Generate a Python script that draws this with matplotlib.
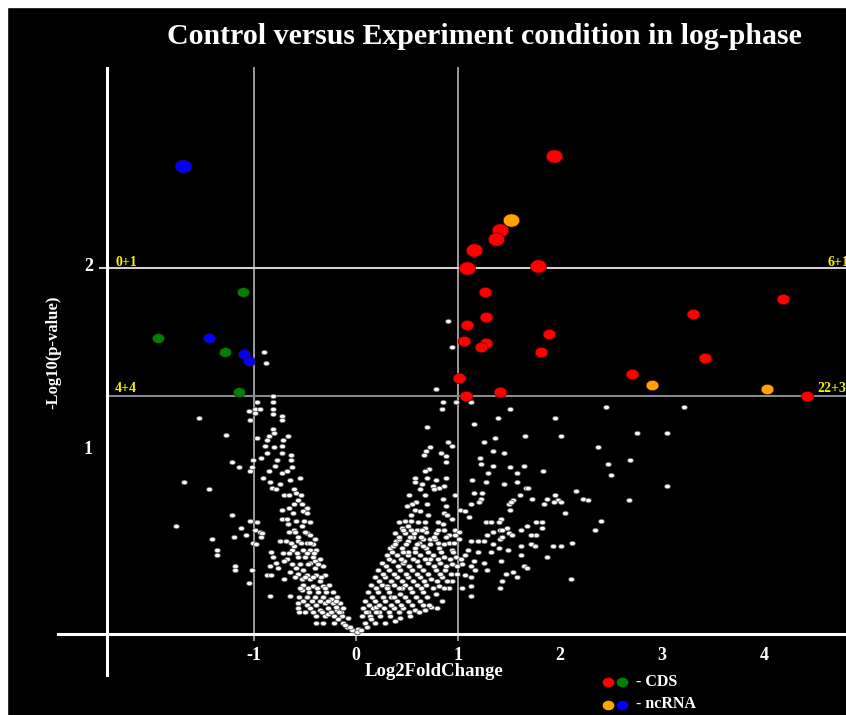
"""
Volcano plot: Control versus Experiment condition in log-phase
"""

import matplotlib
matplotlib.use('Agg')
import matplotlib.pyplot as plt
import matplotlib.path as mpath
from matplotlib.patches import Rectangle
import numpy as np

# ---- data (Log2FoldChange, -Log10(p-value)) ----
red_big_x = [1.94, 1.41, 1.37, 1.16, 1.09, 1.78]
red_big_y = [2.61, 2.21, 2.16, 2.10, 2.00, 2.01]
orange_big_x = [1.52]
orange_big_y = [2.26]

red_x = [1.26, 1.27, 1.09, 1.89, 1.06, 1.27, 1.23, 1.81, 1.01, 1.41, 1.08,
         4.19, 3.30, 3.42, 2.71, 4.42]
red_y = [1.87, 1.73, 1.69, 1.64, 1.60, 1.59, 1.57, 1.54, 1.40, 1.32, 1.30,
         1.83, 1.75, 1.51, 1.42, 1.30]
orange_x = [2.90, 4.03]
orange_y = [1.36, 1.34]

blue_big_x = [-1.70]
blue_big_y = [2.56]
blue_x = [-1.44, -1.10, -1.05]
blue_y = [1.62, 1.53, 1.49]
green_x = [-1.94, -1.11, -1.28, -1.15]
green_y = [1.62, 1.87, 1.54, 1.32]

# genes that are not significant
white_pts = [
    # left arm
    (-0.90, 1.54), (-0.88, 1.48), (-0.81, 1.30), (-0.81, 1.27), (-0.97, 1.27),
    (-1.05, 1.22), (-0.99, 1.23), (-0.99, 1.21), (-0.94, 1.23), (-1.04, 1.17),
    (-0.81, 1.23), (-0.81, 1.20), (-0.73, 1.19), (-0.73, 1.17), (-1.54, 1.18),
    (-1.27, 1.09), (-0.81, 1.12), (-0.80, 1.10), (-0.85, 1.08), (-0.97, 1.07),
    (-0.67, 1.08), (-0.72, 1.06), (-0.87, 1.06), (-0.89, 1.03), (-0.80, 1.02),
    (-0.73, 1.03), (-0.87, 0.99), (-0.73, 0.99), (-0.64, 0.98), (-0.93, 0.96),
    (-1.01, 0.95), (-0.77, 0.95), (-0.64, 0.95), (-1.22, 0.94), (-1.15, 0.91),
    (-1.02, 0.91), (-1.04, 0.89), (-0.79, 0.92), (-0.85, 0.89), (-0.73, 0.88),
    (-0.63, 0.91), (-0.68, 0.89), (-0.55, 0.85), (-0.65, 0.84), (-0.91, 0.85),
    (-0.84, 0.83), (-0.75, 0.82), (-0.82, 0.80), (-0.78, 0.79), (-1.69, 0.83),
    (-1.44, 0.79), (-0.61, 0.79), (-0.59, 0.77), (-0.54, 0.76), (-0.71, 0.76),
    (-0.66, 0.76), (-0.57, 0.73), (-0.53, 0.71), (-0.61, 0.71), (-0.48, 0.69),
    (-0.73, 0.68), (-0.66, 0.69), (-0.52, 0.67), (-0.62, 0.66), (-0.48, 0.66),
    (-1.22, 0.65), (-0.73, 0.63), (-0.68, 0.63), (-0.59, 0.62), (-0.51, 0.62),
    (-0.45, 0.61), (-1.04, 0.62), (-0.97, 0.61), (-1.76, 0.59), (-0.67, 0.60),
    (-0.53, 0.59), (-1.13, 0.58), (-0.99, 0.57), (-0.61, 0.57), (-0.66, 0.56),
    (-0.48, 0.55), (-0.94, 0.56), (-0.92, 0.55), (-1.20, 0.53), (-1.08, 0.54),
    (-0.93, 0.53), (-1.41, 0.52), (-0.57, 0.53), (-0.45, 0.54), (-0.40, 0.52),
    (-0.75, 0.51), (-0.69, 0.51), (-0.57, 0.51), (-1.01, 0.50), (-0.98, 0.49),
    (-0.48, 0.50), (-0.42, 0.49), (-0.61, 0.48), (-0.63, 0.46), (-0.52, 0.46),
    (-0.45, 0.46), (-0.39, 0.46), (-1.36, 0.46), (-1.36, 0.43), (-0.83, 0.45),
    (-0.72, 0.44), (-0.81, 0.42), (-0.68, 0.41), (-0.57, 0.42), (-0.50, 0.42),
    (-0.42, 0.42), (-0.35, 0.41), (-0.78, 0.39), (-0.71, 0.40), (-0.45, 0.39),
    (-0.40, 0.40), (-1.19, 0.37), (-1.19, 0.35), (-1.02, 0.35), (-0.84, 0.37),
    (-0.76, 0.36), (-0.59, 0.36), (-0.52, 0.35), (-0.40, 0.36), (-0.32, 0.37),
    (-0.65, 0.34), (-0.57, 0.33), (-0.48, 0.32), (-0.39, 0.32), (-0.30, 0.32),
    (-0.87, 0.32), (-0.83, 0.32), (-0.71, 0.30), (-0.53, 0.30), (-0.45, 0.30),
    (-0.35, 0.29), (-1.05, 0.28), (-0.52, 0.27), (-0.42, 0.26), (-0.32, 0.26),
    (-0.26, 0.27), (-0.53, 0.24), (-0.46, 0.23), (-0.37, 0.23), (-0.29, 0.23),
    (-0.23, 0.23), (-0.65, 0.21), (-0.84, 0.21), (-0.56, 0.20), (-0.48, 0.20),
    (-0.40, 0.20), (-0.32, 0.20), (-0.19, 0.20), (-0.57, 0.17), (-0.48, 0.16),
    (-0.39, 0.16), (-0.30, 0.17), (-0.23, 0.17), (-0.16, 0.17), (-0.57, 0.14),
    (-0.45, 0.14), (-0.35, 0.13), (-0.27, 0.14), (-0.19, 0.13), (-0.13, 0.14),
    (-0.56, 0.12), (-0.39, 0.10), (-0.30, 0.10), (-0.22, 0.10), (-0.14, 0.10),
    (-0.08, 0.09), (-0.39, 0.06), (-0.32, 0.06), (-0.22, 0.06), (-0.13, 0.06),
    (-0.09, 0.04), (-0.04, 0.02), (0.01, 0.01), (-0.27, 0.11), (-0.18, 0.08),
    (-0.11, 0.05), (-0.06, 0.04), (-0.25, 0.19), (-0.20, 0.15), (-0.15, 0.12),
    (-0.50, 0.12), (-0.42, 0.12), (-0.33, 0.12), (-0.25, 0.12), (-0.17, 0.12),
    (-0.52, 0.18), (-0.43, 0.18), (-0.35, 0.18), (-0.27, 0.18), (-0.20, 0.18),
    (-0.55, 0.25), (-0.47, 0.25), (-0.38, 0.25), (-0.30, 0.25), (-0.60, 0.31),
    (-0.50, 0.31), (-0.42, 0.31), (-0.34, 0.31), (-0.63, 0.38), (-0.55, 0.38),
    (-0.47, 0.38), (-0.37, 0.38), (-0.66, 0.44), (-0.58, 0.44), (-0.48, 0.44),
    (-0.41, 0.44), (-0.64, 0.50), (-0.54, 0.50), (-0.45, 0.50), (-0.60, 0.56),
    (-0.50, 0.56),
    # right arm
    (0.94, 1.57), (0.90, 1.71), (0.78, 1.34), (0.85, 1.27), (0.98, 1.27),
    (1.13, 1.27), (0.84, 1.23), (1.51, 1.23), (1.39, 1.18), (1.16, 1.15),
    (0.70, 1.13), (1.36, 1.07), (1.25, 1.05), (0.90, 1.05), (0.94, 1.03),
    (0.73, 1.02), (0.69, 1.00), (0.83, 0.99), (1.34, 1.00), (1.45, 0.99),
    (0.67, 0.98), (0.88, 0.97), (1.22, 0.96), (1.23, 0.93), (0.88, 0.94),
    (1.34, 0.92), (1.51, 0.91), (0.72, 0.90), (0.68, 0.89), (1.29, 0.88),
    (0.58, 0.85), (0.88, 0.85), (0.70, 0.85), (0.78, 0.84), (1.14, 0.84),
    (1.27, 0.83), (0.58, 0.83), (1.45, 0.82), (0.65, 0.82), (0.75, 0.81),
    (0.86, 0.81), (0.81, 0.80), (0.63, 0.79), (0.76, 0.79), (1.24, 0.77),
    (1.16, 0.77), (0.97, 0.76), (0.52, 0.76), (0.68, 0.76), (0.85, 0.74),
    (1.23, 0.74), (1.21, 0.72), (1.54, 0.73), (0.59, 0.72), (0.55, 0.71),
    (0.70, 0.71), (1.50, 0.71), (1.13, 0.71), (0.88, 0.70), (0.50, 0.70),
    (0.58, 0.68), (1.51, 0.68), (1.02, 0.68), (1.07, 0.67), (0.63, 0.67),
    (0.86, 0.66), (0.89, 0.65), (0.71, 0.65), (0.54, 0.65), (0.94, 0.63),
    (1.11, 0.64), (1.42, 0.63), (0.48, 0.62), (0.54, 0.62), (0.68, 0.61),
    (0.61, 0.61), (0.42, 0.61), (0.80, 0.61), (0.85, 0.60), (1.27, 0.61),
    (1.32, 0.61), (1.40, 0.61), (0.51, 0.59), (1.48, 0.58), (0.45, 0.58),
    (0.60, 0.57), (0.86, 0.57), (0.97, 0.57), (0.69, 0.56), (1.01, 0.56),
    (1.34, 0.56), (1.41, 0.57), (1.50, 0.55), (0.38, 0.55), (0.48, 0.55),
    (0.78, 0.55), (0.91, 0.54), (0.97, 0.54), (1.53, 0.54), (1.28, 0.54),
    (0.56, 0.53), (0.66, 0.52), (0.73, 0.52), (1.01, 0.52), (1.25, 0.51),
    (1.41, 0.52), (1.20, 0.51), (0.39, 0.51), (0.51, 0.51), (0.62, 0.50),
    (0.80, 0.50), (1.13, 0.51), (0.91, 0.50), (0.96, 0.50), (1.34, 0.49),
    (1.40, 0.47), (1.49, 0.46), (0.33, 0.47), (0.45, 0.47), (0.58, 0.47),
    (0.69, 0.47), (0.81, 0.47), (0.94, 0.46), (1.10, 0.46), (1.20, 0.45),
    (1.32, 0.45), (1.07, 0.43), (1.16, 0.40), (0.30, 0.43), (0.40, 0.43),
    (0.51, 0.43), (0.63, 0.43), (0.75, 0.43), (0.86, 0.42), (0.98, 0.42),
    (1.42, 0.40), (1.25, 0.39), (1.13, 0.37), (0.25, 0.39), (0.36, 0.40),
    (0.46, 0.39), (0.60, 0.40), (0.71, 0.39), (0.82, 0.39), (0.94, 0.38),
    (1.04, 0.38), (1.28, 0.35), (1.17, 0.35), (1.54, 0.34), (0.22, 0.35),
    (0.32, 0.35), (0.43, 0.35), (0.55, 0.35), (0.66, 0.35), (0.78, 0.35),
    (0.87, 0.35), (0.99, 0.33), (1.07, 0.32), (1.13, 0.31), (0.19, 0.31),
    (0.28, 0.31), (0.40, 0.31), (0.51, 0.31), (0.63, 0.31), (0.74, 0.30),
    (0.84, 0.31), (0.94, 0.29), (1.43, 0.29), (1.41, 0.25), (1.13, 0.26),
    (1.04, 0.25), (0.15, 0.27), (0.25, 0.27), (0.37, 0.27), (0.48, 0.27),
    (0.60, 0.27), (0.69, 0.27), (0.81, 0.26), (0.91, 0.25), (1.13, 0.21),
    (0.12, 0.23), (0.22, 0.23), (0.32, 0.23), (0.43, 0.22), (0.55, 0.23),
    (0.66, 0.23), (0.78, 0.22), (0.84, 0.18), (0.09, 0.18), (0.19, 0.18),
    (0.28, 0.18), (0.40, 0.18), (0.51, 0.18), (0.63, 0.18), (0.74, 0.15),
    (0.79, 0.14), (0.07, 0.14), (0.17, 0.14), (0.27, 0.14), (0.37, 0.14),
    (0.46, 0.14), (0.58, 0.13), (0.68, 0.13), (0.06, 0.10), (0.14, 0.10),
    (0.24, 0.10), (0.33, 0.10), (0.43, 0.09), (0.53, 0.10), (0.28, 0.06),
    (0.19, 0.06), (0.09, 0.06), (0.38, 0.07), (0.02, 0.03), (0.11, 0.04),
    (0.01, 0.01), (0.05, 0.02), (0.15, 0.08), (0.23, 0.12), (0.34, 0.20),
    (0.45, 0.25), (0.56, 0.29), (0.62, 0.37), (0.73, 0.41), (0.51, 0.45),
    (0.36, 0.48), (0.42, 0.52), (0.57, 0.55), (0.68, 0.58), (0.47, 0.40),
    (0.30, 0.26), (0.20, 0.15), (0.12, 0.12), (0.66, 0.48), (0.77, 0.52),
    (0.10, 0.12), (0.20, 0.12), (0.32, 0.12), (0.42, 0.12), (0.52, 0.12),
    (0.62, 0.12), (0.13, 0.16), (0.23, 0.16), (0.34, 0.16), (0.44, 0.16),
    (0.55, 0.16), (0.66, 0.16), (0.72, 0.16), (0.16, 0.20), (0.26, 0.20),
    (0.37, 0.20), (0.48, 0.20), (0.59, 0.20), (0.70, 0.20), (0.20, 0.25),
    (0.30, 0.25), (0.42, 0.25), (0.53, 0.25), (0.64, 0.25), (0.75, 0.25),
    (0.86, 0.25), (0.23, 0.29), (0.34, 0.29), (0.45, 0.29), (0.67, 0.29),
    (0.79, 0.29), (0.89, 0.29), (0.26, 0.33), (0.37, 0.33), (0.49, 0.33),
    (0.60, 0.33), (0.71, 0.33), (0.82, 0.33), (0.93, 0.33), (0.29, 0.37),
    (0.41, 0.37), (0.52, 0.37), (0.76, 0.37), (0.88, 0.37), (0.99, 0.37),
    (0.32, 0.41), (0.44, 0.41), (0.56, 0.41), (0.68, 0.41), (0.80, 0.41),
    (0.92, 0.41), (1.03, 0.41), (0.35, 0.45), (0.46, 0.45), (0.58, 0.45),
    (0.71, 0.45), (0.83, 0.45), (0.95, 0.45), (0.38, 0.49), (0.49, 0.49),
    (0.60, 0.49), (0.73, 0.49), (0.86, 0.49), (0.42, 0.53), (0.53, 0.53),
    (0.64, 0.53), (0.76, 0.53), (0.88, 0.53), (0.46, 0.57), (0.54, 0.57),
    (0.65, 0.57), (0.80, 0.57),
    # far right
    (2.45, 1.24), (3.22, 1.24), (1.95, 1.18), (1.66, 1.08), (2.01, 1.08),
    (2.75, 1.10), (3.05, 1.10), (2.37, 1.02), (2.47, 0.93), (2.69, 0.95),
    (2.50, 0.87), (1.65, 0.92), (1.58, 0.88), (1.83, 0.89), (1.58, 0.83),
    (1.67, 0.80), (1.69, 0.80), (3.05, 0.81), (2.16, 0.78), (1.61, 0.76),
    (1.87, 0.74), (1.95, 0.76), (1.73, 0.74), (2.23, 0.74), (2.27, 0.73),
    (2.68, 0.73), (1.98, 0.73), (2.01, 0.72), (1.94, 0.72), (1.84, 0.71),
    (1.52, 0.72), (2.05, 0.66), (2.40, 0.62), (2.34, 0.57), (1.76, 0.61),
    (1.82, 0.61), (1.82, 0.58), (1.68, 0.59), (1.62, 0.57), (1.76, 0.54),
    (1.72, 0.54), (2.12, 0.50), (1.93, 0.48), (2.01, 0.48), (1.72, 0.49),
    (1.75, 0.48), (1.62, 0.48), (1.62, 0.43), (1.87, 0.42), (1.65, 0.37),
    (1.68, 0.36), (1.47, 0.33), (1.58, 0.31), (2.11, 0.30), (1.43, 0.57),
    (1.43, 0.53),
]

categories = ['- CDS', '- ncRNA']
legend_colors = [('red', 'green'), ('orange', 'blue')]
corner_labels = ['0+1', '4+4', '6+1', '22+3']
x_ticks = [-1, 0, 1, 2, 3, 4]
y_ticks = [1, 2]

# ---- figure setup ----
W, H = 846, 715
fig = plt.figure(figsize=(W / 100, H / 100), dpi=100, facecolor='black')
ax = fig.add_axes([0, 0, 1, 1])
ax.set_facecolor('black')
ax.axis('off')

# pixel mapping of the original: x=0 at px 356, 102 px/unit; y=0 at py 634, 183 px/unit
def px2x(px):
    return (px - 356) / 102


def py2y(py):
    return (634 - py) / 183


ax.set_xlim(px2x(0), px2x(W))
ax.set_ylim(py2y(H), py2y(0))

# white border of the screenshot (top and left)
fig.patches.append(Rectangle((0, 1 - 7 / H), 1, 7 / H, transform=fig.transFigure,
                             color='white', zorder=10))
fig.patches.append(Rectangle((0, 0), 7 / W, 1, transform=fig.transFigure,
                             color='white', zorder=10))

# ellipse marker (points are slightly wider than tall in the original)
t = np.linspace(0, 2 * np.pi, 60)
ell = mpath.Path(np.column_stack([np.cos(t), 0.8 * np.sin(t)]), closed=True)

serif = ['Liberation Serif', 'DejaVu Serif']

# ---- axis lines and guides ----
ax.plot([px2x(107), px2x(107)], [py2y(68), py2y(675)], color='white', lw=2.2, zorder=2)
ax.plot([px2x(58), px2x(W)], [0, 0], color='white', lw=2.2, zorder=2)
for xv in [-1, 1]:
    ax.plot([xv, xv], [py2y(68), py2y(640)], color='#a8a8a8', lw=1.3, zorder=1)
ax.plot([0, 0], [0, py2y(640)], color='#a8a8a8', lw=1.3, zorder=1)
ax.plot([px2x(100), px2x(W)], [2, 2], color='#d0d0d0', lw=1.5, zorder=1)
ax.plot([px2x(107), px2x(W)], [-np.log10(0.05)] * 2, color='#8a8a8a', lw=1.5, zorder=1)

# ---- points ----
wp = np.array(white_pts)
ax.scatter(wp[:, 0], wp[:, 1], s=17, marker=ell, c='white', edgecolors='#505050',
           linewidths=0.5, zorder=3)

def dots(xs, ys, color, size):
    ax.scatter(xs, ys, s=size, marker=ell, c=color, edgecolors='#400000',
               linewidths=0.4, zorder=4)


dots(red_x, red_y, 'red', 85)
dots(orange_x, orange_y, 'orange', 85)
dots(green_x, green_y, 'green', 76)
dots(blue_x, blue_y, 'blue', 76)
dots(red_big_x, red_big_y, 'red', 140)
dots(orange_big_x, orange_big_y, 'orange', 140)
dots(blue_big_x, blue_big_y, 'blue', 140)

# ---- texts ----
ax.text(px2x(484), py2y(36), 'Control versus Experiment condition in log-phase',
        color='white', fontsize=21.5, fontweight='bold', family=serif,
        ha='center', va='center')

for xv in x_ticks:
    ax.text(xv, py2y(655), f'{xv}', color='white', fontsize=13, fontweight='bold',
            family=serif, ha='center', va='center')
for yv in y_ticks:
    ax.text(px2x(93), yv + 0.01, f'{yv}', color='white', fontsize=13, fontweight='bold',
            family=serif, ha='right', va='center')

ax.text(px2x(434), py2y(671), 'Log2FoldChange', color='white', fontsize=13.5,
        fontweight='bold', family=serif, ha='center', va='center')
ax.text(px2x(53), py2y(352), '-Log10(p-value)', color='white', fontsize=12,
        fontweight='bold', family=serif, ha='center', va='center', rotation=90)

label_pos = [(115, 262), (115, 388), (827, 262), (817, 388)]
for lab, (lx, ly) in zip(corner_labels, label_pos):
    ax.text(px2x(lx), py2y(ly), lab, color='#f0f000', fontsize=10, fontweight='bold',
            family=serif, ha='left', va='center')

# legend drawn as plain markers and text
for i, (cat, (c1, c2)) in enumerate(zip(categories, legend_colors)):
    ly = py2y(682 + 22.5 * i)
    ax.scatter([px2x(608)], [ly], s=55, marker=ell, c=c1, zorder=4, clip_on=False)
    ax.scatter([px2x(622)], [ly], s=55, marker=ell, c=c2, zorder=4, clip_on=False)
    ax.text(px2x(636), ly, cat, color='white', fontsize=11.5, fontweight='bold',
            family=serif, ha='left', va='center')

fig.savefig('out.png', dpi=100, facecolor='black')
